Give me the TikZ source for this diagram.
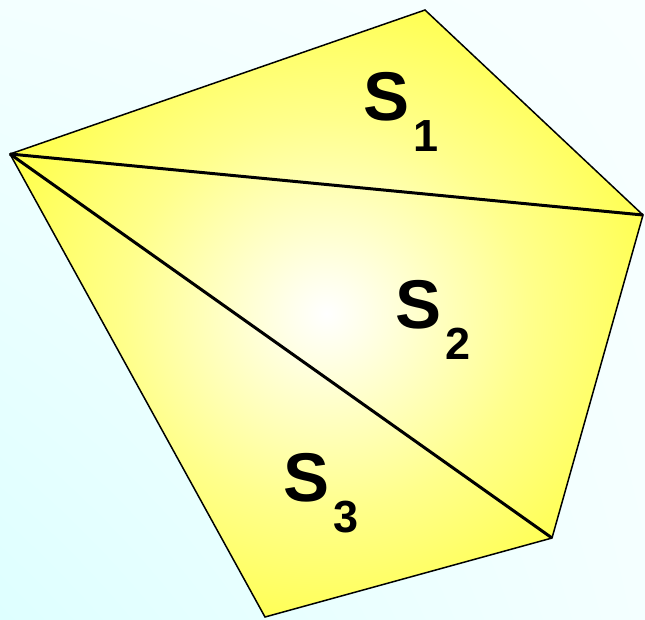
\documentclass[tikz,border=0pt]{standalone}
\usepackage{fontspec}
\setmainfont{Liberation Sans}
\usetikzlibrary{shadings}
\definecolor{bgUL}{RGB}{243,255,255}
\definecolor{bgUR}{RGB}{248,255,255}
\definecolor{bgLL}{RGB}{222,255,255}
\definecolor{bgLR}{RGB}{244,255,255}
\definecolor{yel}{RGB}{255,255,50}
\definecolor{yelmid}{RGB}{255,255,140}
\pgfdeclareradialshading{yshade}{\pgfpoint{0bp}{0bp}}{%
  color(0bp)=(white);
  color(3bp)=(white!90!yel);
  color(16bp)=(yelmid);
  color(32bp)=(yel);
  color(50bp)=(yel)}
\tikzset{
  outline/.style={draw=black, line width=1.5pt, line join=miter},
  diag/.style={draw=black, line width=3pt},
  lab/.style={inner sep=0pt, anchor=base west, font=\bfseries}
}
\newcommand{\lbl}[1]{{\fontsize{69}{69}\selectfont S}\kern4pt\raisebox{-31pt}{\fontsize{45}{45}\selectfont #1}}
\begin{document}
\begin{tikzpicture}[x=1pt,y=-1pt]
\useasboundingbox (0,0) rectangle (645,619);
\shade[upper left=bgUL, upper right=bgUR, lower left=bgLL, lower right=bgLR] (0,0) rectangle (645,619);
\coordinate (A) at (10,154);
\coordinate (B) at (425,10);
\coordinate (C) at (643,215);
\coordinate (D) at (552,538);
\coordinate (E) at (265,617);
\shade[shading=yshade] (A) -- (B) -- (C) -- (D) -- (E) -- cycle;
\draw[diag] (A) -- (C);
\draw[diag] (A) -- (D);
\draw[outline] (A) -- (B) -- (C) -- (D) -- (E) -- cycle;
\node[lab] (s1) at (363,120) {\lbl{1}};
\node[lab] (s2) at (395,328) {\lbl{2}};
\node[lab] (s3) at (283,501) {\lbl{3}};
\end{tikzpicture}
\end{document}
